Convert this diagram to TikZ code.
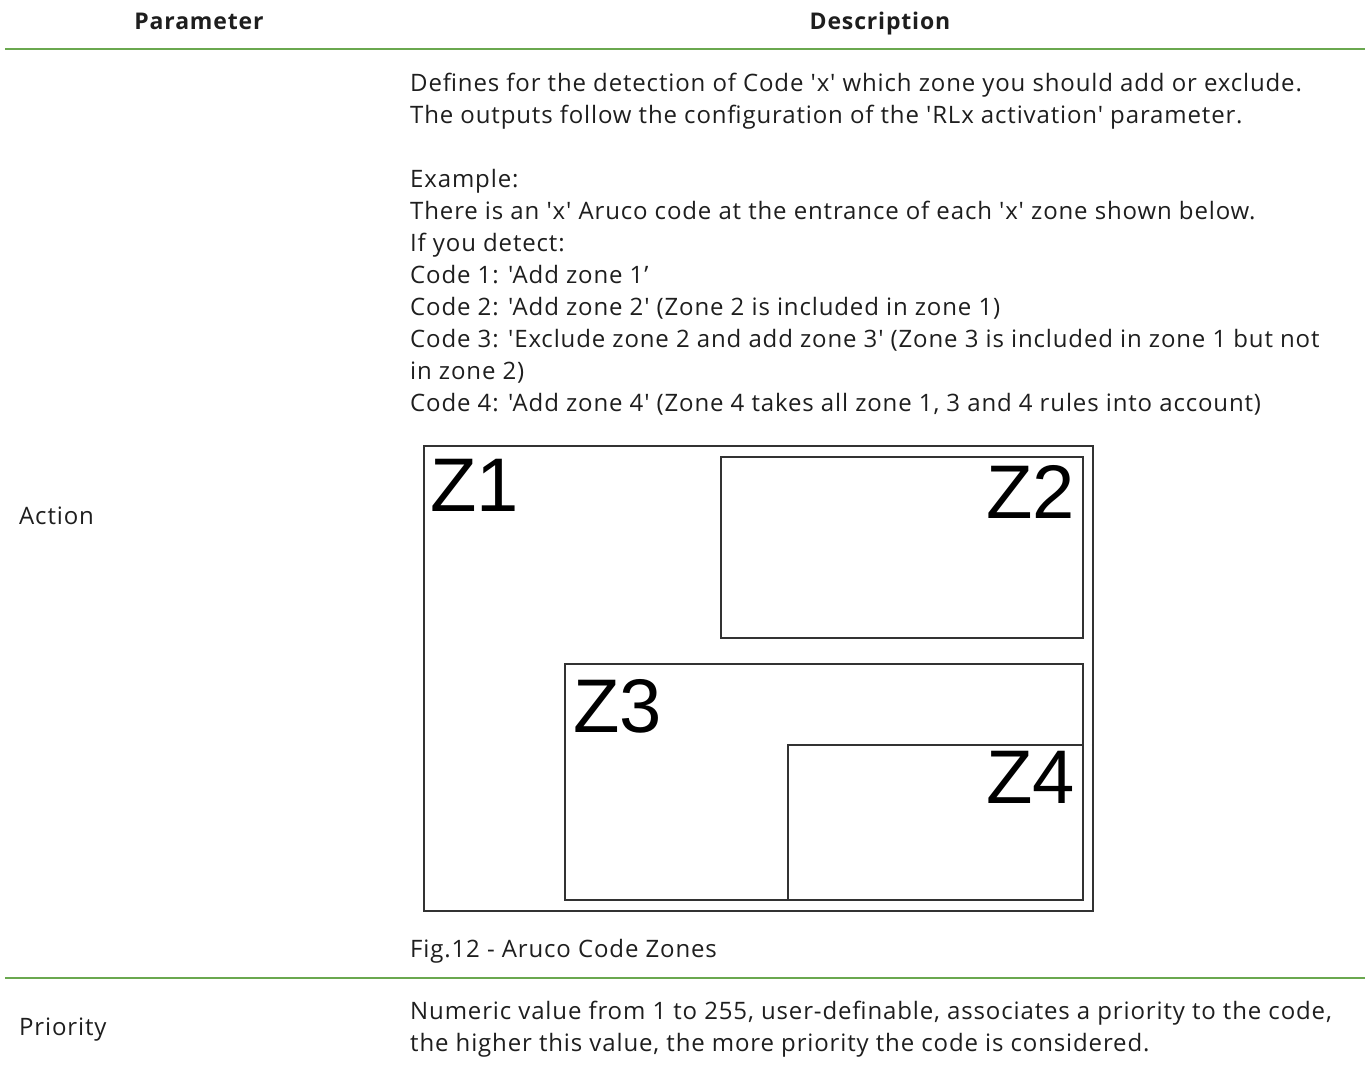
\documentclass[tikz,border=0pt]{standalone}
\usepackage{fontspec}
\setmainfont{Open Sans}[Ligatures=TeXOff,LetterSpace=3.6]
\newfontfamily\zonefont{Liberation Sans}
\usetikzlibrary{positioning}
\definecolor{rule}{RGB}{106,168,79}
\definecolor{ink}{RGB}{30,30,30}
\definecolor{frame}{RGB}{50,50,50}
\newcommand\firstline{\rule{0pt}{20pt}}
\tikzset{
  head/.style={font=\fontsize{23}{26}\selectfont\bfseries,text=ink,inner sep=0pt},
  body/.style={font=\fontsize{24}{32}\selectfont,text=ink,inner sep=0pt,align=left},
  sep/.style={draw=rule,line width=2.4pt},
  zone/.style={draw=frame,line width=1.4pt},
  zlabel/.style={font=\zonefont\fontsize{76}{76}\selectfont,inner sep=0pt},
}
\begin{document}
\begin{tikzpicture}[x=1pt,y=-1pt]
  \useasboundingbox (0,0) rectangle (1370,1066);
  % header
  \node[head,anchor=base] (hpar) at (199,29) {Parameter};
  \node[head,anchor=base] (hdesc) at (880,29) {Description};
  \coordinate (r1a) at (5,49);  \coordinate (r1b) at (1365,49);
  \draw[sep] (r1a) -- (r1b);
  % action row
  \node[body,anchor=base west] (act) at (19,524) {Action};
  \node[body,anchor=north west] (txt) at (410,71) {\firstline Defines for the detection of Code 'x' which zone you should add or exclude.\\
    The outputs follow the configuration of the 'RLx activation' parameter.\\
    ~\\
    Example:\\
    There is an 'x' Aruco code at the entrance of each 'x' zone shown below.\\
    If you detect:\\
    Code 1: 'Add zone 1’\\
    Code 2: 'Add zone 2' (Zone 2 is included in zone 1)\\
    Code 3: 'Exclude zone 2 and add zone 3' (Zone 3 is included in zone 1 but not\\
    in zone 2)\\
    Code 4: 'Add zone 4' (Zone 4 takes all zone 1, 3 and 4 rules into account)};
  % zones
  \draw[zone] (424,446) rectangle (1093,911);
  \draw[zone] (721,457) rectangle (1083,638);
  \draw[zone] (565,664) rectangle (1083,900);
  \draw[zone] (788,745) rectangle (1083,900);
  \node[zlabel,anchor=north west] (z1) at (430,459) {Z1};
  \node[zlabel,anchor=north east] (z2) at (1075,465) {Z2};
  \node[zlabel,anchor=north west] (z3) at (573,679) {Z3};
  \node[zlabel,anchor=north east] (z4) at (1075,751) {Z4};
  \node[body,anchor=base west] (cap) at (410,957) {Fig.12 - Aruco Code Zones};
  \coordinate (r2a) at (5,978);  \coordinate (r2b) at (1365,978);
  \draw[sep] (r2a) -- (r2b);
  % priority row
  \node[body,anchor=base west] (prio) at (19,1035) {Priority};
  \node[body,anchor=north west] (ptxt) at (410,999) {\firstline Numeric value from 1 to 255, user-definable, associates a priority to the code,\\
    the higher this value, the more priority the code is considered.};
\end{tikzpicture}
\end{document}
